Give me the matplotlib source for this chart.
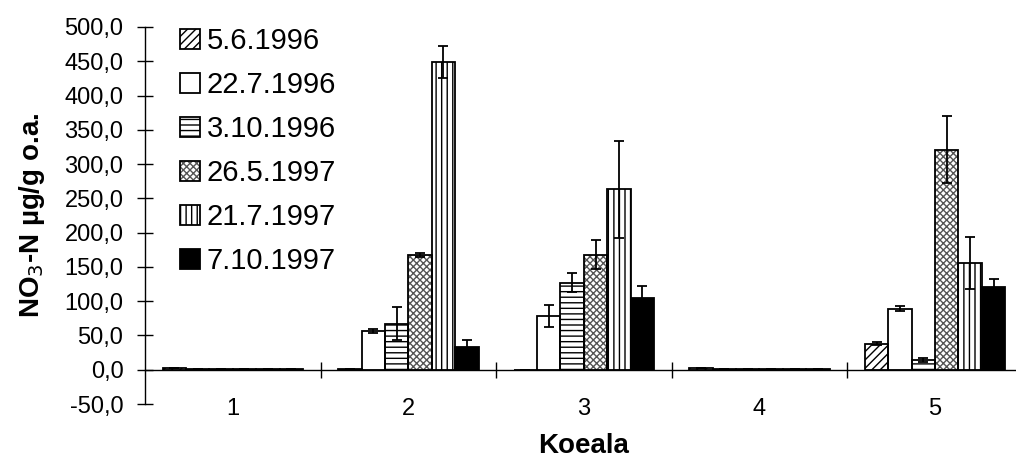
import matplotlib.pyplot as plt
import numpy as np
from matplotlib.ticker import FuncFormatter
from matplotlib.patches import Patch

plt.rcParams['font.family'] = ['Liberation Sans', 'DejaVu Sans']
plt.rcParams['hatch.linewidth'] = 1.0

# Data (NO3-N per sampling plot, six sampling dates)
plots = ["1", "2", "3", "4", "5"]
dates = ["5.6.1996", "22.7.1996", "3.10.1996", "26.5.1997", "21.7.1997", "7.10.1997"]
v_1996_06 = [3, 1, 0, 2, 38]
v_1996_07 = [1, 57, 79, 1, 89]
v_1996_10 = [1, 67, 127, 1, 14]
v_1997_05 = [1, 168, 168, 1, 321]
v_1997_07 = [1, 449, 263, 1.5, 156]
v_1997_10 = [1, 33, 104, 1, 120]
e_1996_06 = [0, 0, 0, 0, 2]
e_1996_07 = [0, 3, 16, 0, 4]
e_1996_10 = [0, 24, 14, 0, 3]
e_1997_05 = [0, 3, 21, 0, 49]
e_1997_07 = [0, 24, 71, 0, 38]
e_1997_10 = [0, 10, 18, 0, 13]

values = [v_1996_06, v_1996_07, v_1996_10, v_1997_05, v_1997_07, v_1997_10]
errors = [e_1996_06, e_1996_07, e_1996_10, e_1997_05, e_1997_07, e_1997_10]
faces = ['white', 'white', 'white', 'white', 'white', 'black']
hatches = ['////', '', '---', 'xxxxx', '|||', '']
hatch_cols = ['black', 'black', 'black', '#555555', 'black', 'black']

fig = plt.figure(figsize=(10.16, 4.63), dpi=100)
ax = fig.add_axes([0.1427, 0.1274, 0.864, 0.8143])

x = np.arange(1, len(plots) + 1)
w = 0.8 / len(dates)
handles = []
for i, (vals, errs) in enumerate(zip(values, errors)):
    pos = x - 0.4 + w * (i + 0.5)
    # fill + hatch layer, then black outline on top
    ax.bar(pos, vals, width=w, color=faces[i], edgecolor=hatch_cols[i], hatch=hatches[i],
           linewidth=0, zorder=2)
    ax.bar(pos, vals, width=w, fill=False, edgecolor='black', linewidth=1.3, zorder=2.5)
    ax.errorbar(pos, vals, yerr=errs, fmt='none', ecolor='black', elinewidth=1.3,
                capsize=3.5, capthick=1.3, zorder=3)
    handles.append((Patch(facecolor=faces[i], edgecolor=hatch_cols[i], hatch=hatches[i], linewidth=0),
                    Patch(fill=False, edgecolor='black', linewidth=1.3)))

ax.set_xlim(0.5, 5.5)
ax.set_ylim(-50, 500)
ax.set_yticks(np.arange(-50, 501, 50))
ax.yaxis.set_major_formatter(FuncFormatter(lambda v, p: f"{v:.1f}".replace('.', ',')))

ax.spines['top'].set_visible(False)
ax.spines['right'].set_visible(False)
ax.spines['bottom'].set_position(('data', 0))
ax.spines['left'].set_linewidth(1.0)
ax.spines['bottom'].set_linewidth(1.0)

ax.set_xticks(x)
ax.set_xticklabels(plots)
ax.set_xticks(x[:-1] + 0.5, minor=True)
ax.tick_params(axis='x', which='major', length=0, pad=20, labelsize=17)
ax.tick_params(axis='x', which='minor', direction='inout', length=11, width=1.0)
ax.tick_params(axis='y', direction='inout', length=11, width=1.0, labelsize=17, pad=10)

ax.set_xlabel("Koeala", fontsize=20, fontweight='bold', labelpad=10)
ax.set_ylabel("NO$_3$-N µg/g o.a.", fontsize=20, fontweight='bold')
ax.yaxis.set_label_coords(-0.112, 0.5)

ax.legend(handles, dates, loc='upper left', bbox_to_anchor=(0.04, 1.0), frameon=False,
          fontsize=21, borderpad=0, borderaxespad=0,
          handlelength=0.68, handleheight=0.68, handletextpad=0.24, labelspacing=0.55)

fig.savefig("out.png", dpi=100)
